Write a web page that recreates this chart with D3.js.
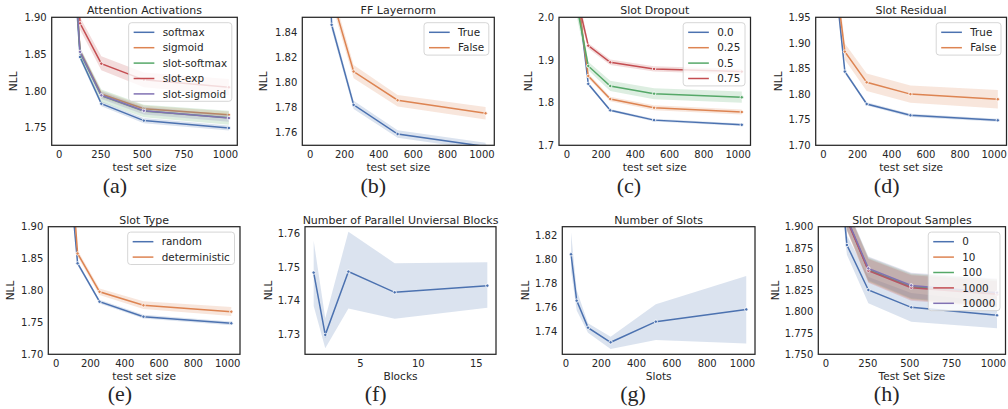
<!DOCTYPE html>
<html><head><meta charset="utf-8">
<script src="https://cdn.jsdelivr.net/npm/d3@7"></script>
<style>
body{margin:0;background:#fff}
svg{display:block}
text{font-family:'DejaVu Sans',sans-serif;fill:#262626}
</style>
</head><body><svg id="c" width="1008" height="409"></svg>
<script>
// ---------- data ----------
const testSizes = [8, 128, 256, 512, 1024];
const ticksTest250 = [0, 250, 500, 750, 1000];
const ticksTest200 = [0, 200, 400, 600, 800, 1000];

// (a) Attention Activations
const attnNames = ['softmax', 'sigmoid', 'slot-softmax', 'slot-exp', 'slot-sigmoid'];
const attnMean = [
  [2.25, 1.846, 1.7825, 1.7596, 1.7495],
  [2.28, 1.854, 1.7957, 1.7756, 1.7674],
  [2.27, 1.852, 1.7935, 1.7725, 1.7635],
  [2.35, 1.8918, 1.837, 1.815, 1.8049],
  [2.27, 1.853, 1.794, 1.773, 1.763]];
const attnLo = [
  [2.22, 1.842, 1.779, 1.756, 1.746],
  [2.25, 1.850, 1.791, 1.771, 1.762],
  [2.23, 1.845, 1.785, 1.764, 1.754],
  [2.30, 1.883, 1.828, 1.805, 1.794],
  [2.24, 1.848, 1.789, 1.768, 1.758]];
const attnHi = [
  [2.28, 1.850, 1.786, 1.763, 1.753],
  [2.31, 1.858, 1.800, 1.780, 1.772],
  [2.31, 1.859, 1.802, 1.781, 1.773],
  [2.40, 1.900, 1.847, 1.825, 1.816],
  [2.30, 1.858, 1.799, 1.778, 1.768]];
const attnYTicks = [1.75, 1.80, 1.85, 1.90];

// (b) FF Layernorm
const lnNames = ['True', 'False'];
const lnMean = [[2.25, 1.846, 1.7822, 1.759, 1.749], [2.30, 1.869, 1.8088, 1.7859, 1.7755]];
const lnLo = [[2.22, 1.842, 1.779, 1.756, 1.746], [2.26, 1.863, 1.8035, 1.781, 1.7705]];
const lnHi = [[2.28, 1.850, 1.7855, 1.762, 1.752], [2.34, 1.875, 1.814, 1.790, 1.7805]];
const lnYTicks = [1.76, 1.78, 1.80, 1.82, 1.84];

// (c) Slot Dropout
const dropNames = ['0.0', '0.25', '0.5', '0.75'];
const dropMean = [
  [2.25, 1.844, 1.782, 1.759, 1.748],
  [2.22, 1.8625, 1.8086, 1.788, 1.778],
  [2.14, 1.886, 1.839, 1.821, 1.8125],
  [2.14, 1.9336, 1.8945, 1.879, 1.8727]];
const dropLo = [
  [2.22, 1.840, 1.779, 1.756, 1.745],
  [2.19, 1.857, 1.803, 1.782, 1.772],
  [2.10, 1.876, 1.827, 1.808, 1.800],
  [2.10, 1.927, 1.888, 1.873, 1.866]];
const dropHi = [
  [2.28, 1.848, 1.785, 1.762, 1.751],
  [2.25, 1.868, 1.814, 1.794, 1.784],
  [2.18, 1.896, 1.851, 1.834, 1.826],
  [2.18, 1.940, 1.901, 1.885, 1.879]];
const dropYTicks = [1.7, 1.8, 1.9, 2.0];

// (d) Slot Residual
const resNames = ['True', 'False'];
const resMean = [[2.23, 1.844, 1.7807, 1.7586, 1.7488], [2.20, 1.883, 1.823, 1.800, 1.790]];
const resLo = [[2.20, 1.840, 1.7775, 1.7555, 1.7458], [2.16, 1.867, 1.806, 1.783, 1.772]];
const resHi = [[2.26, 1.848, 1.784, 1.7617, 1.7518], [2.24, 1.899, 1.840, 1.817, 1.808]];
const resYTicks = [1.70, 1.75, 1.80, 1.85, 1.90, 1.95];

// (e) Slot Type
const typeNames = ['random', 'deterministic'];
const typeMean = [[2.20, 1.8426, 1.7825, 1.759, 1.7486], [2.29, 1.858, 1.798, 1.7768, 1.7668]];
const typeLo = [[2.17, 1.839, 1.7795, 1.756, 1.7456], [2.25, 1.853, 1.793, 1.771, 1.760]];
const typeHi = [[2.23, 1.846, 1.7855, 1.762, 1.7516], [2.33, 1.863, 1.803, 1.783, 1.774]];
const typeYTicks = [1.70, 1.75, 1.80, 1.85, 1.90];

// (f) Number of Parallel Universal Blocks
const blocks = [1, 2, 4, 8, 16];
const blocksMean = [1.7483, 1.7297, 1.7486, 1.7424, 1.7444];
const blocksLo = [1.7383, 1.7257, 1.7376, 1.7345, 1.7378];
const blocksHi = [1.7578, 1.7347, 1.7605, 1.7511, 1.7514];
const blocksXTicks = [5, 10, 15];
const blocksYTicks = [1.73, 1.74, 1.75, 1.76];

// (g) Number of Slots
const slots = [32, 64, 128, 256, 512, 1024];
const slotsMean = [1.8039, 1.7653, 1.7428, 1.7306, 1.7478, 1.758];
const slotsLo = [1.790, 1.757, 1.7386, 1.725, 1.7325, 1.7297];
const slotsHi = [1.8222, 1.774, 1.7464, 1.7353, 1.7622, 1.7858];
const slotsYTicks = [1.74, 1.76, 1.78, 1.80, 1.82];

// (h) Slot Dropout Samples
const sampNames = ['0', '10', '100', '1000', '10000'];
const sampMean = [
  [2.14, 1.8785, 1.8256, 1.8052, 1.7958],
  [2.20, 1.909, 1.849, 1.829, 1.822],
  [2.20, 1.909, 1.8495, 1.8295, 1.822],
  [2.20, 1.908, 1.8483, 1.8283, 1.8205],
  [2.20, 1.910, 1.851, 1.831, 1.8225]];
const sampLo = [
  [2.10, 1.867, 1.810, 1.7884, 1.7805],
  [2.16, 1.896, 1.835, 1.814, 1.806],
  [2.16, 1.896, 1.836, 1.815, 1.806],
  [2.16, 1.895, 1.834, 1.813, 1.805],
  [2.16, 1.897, 1.837, 1.816, 1.807]];
const sampHi = [
  [2.18, 1.890, 1.841, 1.822, 1.811],
  [2.24, 1.922, 1.863, 1.844, 1.838],
  [2.24, 1.922, 1.864, 1.845, 1.838],
  [2.24, 1.921, 1.862, 1.843, 1.836],
  [2.24, 1.923, 1.865, 1.846, 1.839]];
const sampYTicks = [1.750, 1.775, 1.800, 1.825, 1.850, 1.875, 1.900];

const palette = ['#4C72B0', '#DD8452', '#55A868', '#C44E52', '#8172B3'];

// ---------- drawing ----------
const svg = d3.select('#c');
let clipId = 0;

function mk(names, mean, lo, hi) {
  return names.map((n, i) => ({name: n, mean: mean[i], lo: lo[i], hi: hi[i], color: palette[i]}));
}

function drawPanel(p) {
  const [l, t, r, b] = p.box;
  const g = svg.append('g');
  const ext = d3.extent(p.xs);
  const pad = (ext[1] - ext[0]) * 0.05;
  const x = d3.scaleLinear().domain([ext[0] - pad, ext[1] + pad]).range([l, r]);
  const y = d3.scaleLinear().domain(p.ydom).range([b, t]);
  const id = 'clip' + (clipId++);
  svg.append('clipPath').attr('id', id).append('rect')
    .attr('x', l).attr('y', t).attr('width', r - l).attr('height', b - t);
  const plot = g.append('g').attr('clip-path', `url(#${id})`);

  p.series.forEach(s => {
    const pts = p.xs.map((xv, i) => ({x: xv, m: s.mean[i], lo: s.lo[i], hi: s.hi[i]}));
    plot.append('path').datum(pts)
      .attr('d', d3.area().x(d => x(d.x)).y0(d => y(d.lo)).y1(d => y(d.hi)))
      .attr('fill', s.color).attr('fill-opacity', 0.2).attr('stroke', 'none');
    plot.append('path').datum(pts)
      .attr('d', d3.line().x(d => x(d.x)).y(d => y(d.m)))
      .attr('fill', 'none').attr('stroke', s.color).attr('stroke-width', 1.5);
    plot.selectAll(null).data(pts).enter().append('circle')
      .attr('cx', d => x(d.x)).attr('cy', d => y(d.m)).attr('r', 1.7)
      .attr('fill', s.color).attr('stroke', '#fff').attr('stroke-width', 0.8);
  });

  g.append('rect').attr('x', l).attr('y', t).attr('width', r - l).attr('height', b - t)
    .attr('fill', 'none').attr('stroke', '#262626').attr('stroke-width', 1.25);

  const ya = g.append('g').attr('transform', `translate(${l},0)`)
    .call(d3.axisLeft(y).tickValues(p.yticks).tickFormat(d3.format(p.yfmt)).tickSize(0).tickPadding(5));
  const xa = g.append('g').attr('transform', `translate(0,${b})`)
    .call(d3.axisBottom(x).tickValues(p.xticks).tickFormat(d3.format('d')).tickSize(0).tickPadding(6));
  [ya, xa].forEach(a => {
    a.select('.domain').remove();
    a.attr('font-family', null).attr('font-size', null);
    a.selectAll('text').style('font-size', '10px').style('font-family', "'DejaVu Sans',sans-serif").attr('fill', '#262626');
  });

  g.append('text').attr('x', (l + r) / 2).attr('y', t - 3).attr('text-anchor', 'middle')
    .style('font-size', '11px').text(p.title);
  g.append('text').attr('x', (l + r) / 2).attr('y', b + 26).attr('text-anchor', 'middle')
    .style('font-size', '10.6px').text(p.xlabel);
  g.append('text').attr('transform', `translate(${p.nllX + 3.8},${(t + b) / 2}) rotate(-90)`)
    .attr('text-anchor', 'middle').style('font-size', '10.6px').text('NLL');
  g.append('text').attr('x', p.capX).attr('y', p.capY).attr('text-anchor', 'middle')
    .style('font-family', "'Liberation Serif','Times New Roman',serif").style('font-size', '22px').text(p.cap);

  if (p.legend) {
    const lg = g.append('g');
    const box = lg.append('rect');
    const texts = p.series.map((s, i) => lg.append('text')
      .attr('y', t + 5.4 + 9.6 + i * 15.4).attr('dy', '0.35em')
      .style('font-size', '10.4px').text(s.name));
    const tw = d3.max(texts, tx => tx.node().getComputedTextLength());
    const w = 5 + 20.7 + 8.3 + tw + 4.7;
    const bx = r - 5.5 - w;
    const h = 9.6 + (p.series.length - 1) * 15.4 + 7.4;
    box.attr('x', bx).attr('y', t + 5.4).attr('width', w).attr('height', h).attr('rx', 3)
      .attr('fill', '#fff').attr('fill-opacity', 0.8).attr('stroke', '#cccccc').attr('stroke-width', 0.8);
    p.series.forEach((s, i) => {
      const cy = t + 5.4 + 9.6 + i * 15.4;
      lg.append('line').attr('x1', bx + 5).attr('x2', bx + 25.7).attr('y1', cy).attr('y2', cy)
        .attr('stroke', s.color).attr('stroke-width', 1.5);
      texts[i].attr('x', bx + 34);
    });
  }
}

const R1 = [17.3, 145.3], R2 = [226.7, 354.3];
const panels = [
  {box: [51.7, R1[0], 237.3, R1[1]], xs: testSizes, series: mk(attnNames, attnMean, attnLo, attnHi),
   ydom: [1.726, 1.90], yticks: attnYTicks, yfmt: '.2f', xticks: ticksTest250,
   title: 'Attention Activations', xlabel: 'test set size', cap: '(a)', capX: 115, capY: 193, nllX: 13.3, legend: true},
  {box: [302.3, R1[0], 494.3, R1[1]], xs: testSizes, series: mk(lnNames, lnMean, lnLo, lnHi),
   ydom: [1.75, 1.852], yticks: lnYTicks, yfmt: '.2f', xticks: ticksTest200,
   title: 'FF Layernorm', xlabel: 'test set size', cap: '(b)', capX: 373.3, capY: 193, nllX: 263.5, legend: true},
  {box: [559, R1[0], 750.5, R1[1]], xs: testSizes, series: mk(dropNames, dropMean, dropLo, dropHi),
   ydom: [1.7, 2.0], yticks: dropYTicks, yfmt: '.1f', xticks: ticksTest200,
   title: 'Slot Dropout', xlabel: 'test set size', cap: '(c)', capX: 629, capY: 193, nllX: 528.3, legend: true},
  {box: [815.7, R1[0], 1006.5, R1[1]], xs: testSizes, series: mk(resNames, resMean, resLo, resHi),
   ydom: [1.70, 1.95], yticks: resYTicks, yfmt: '.2f', xticks: ticksTest200,
   title: 'Slot Residual', xlabel: 'test set size', cap: '(d)', capX: 886.7, capY: 193, nllX: 778.3, legend: true},
  {box: [48.3, R2[0], 240, R2[1]], xs: testSizes, series: mk(typeNames, typeMean, typeLo, typeHi),
   ydom: [1.70, 1.90], yticks: typeYTicks, yfmt: '.2f', xticks: ticksTest200,
   title: 'Slot Type', xlabel: 'test set size', cap: '(e)', capX: 120, capY: 400.5, nllX: 10, legend: true},
  {box: [305, R2[0], 496, R2[1]], xs: blocks, series: [{name: '', mean: blocksMean, lo: blocksLo, hi: blocksHi, color: palette[0]}],
   ydom: [1.7239, 1.762], yticks: blocksYTicks, yfmt: '.2f', xticks: blocksXTicks,
   title: 'Number of Parallel Unviersal Blocks', xlabel: 'Blocks', cap: '(f)', capX: 375.7, capY: 400.5, nllX: 268.3, legend: false},
  {box: [562.3, R2[0], 755, R2[1]], xs: slots, series: [{name: '', mean: slotsMean, lo: slotsLo, hi: slotsHi, color: palette[0]}],
   ydom: [1.7206, 1.8269], yticks: slotsYTicks, yfmt: '.2f', xticks: ticksTest200,
   title: 'Number of Slots', xlabel: 'Slots', cap: '(g)', capX: 633, capY: 400.5, nllX: 525, legend: false},
  {box: [818.3, R2[0], 1005.5, R2[1]], xs: testSizes, series: mk(sampNames, sampMean, sampLo, sampHi),
   ydom: [1.75, 1.90], yticks: sampYTicks, yfmt: '.3f', xticks: ticksTest250,
   title: 'Slot Dropout Samples', xlabel: 'Test Set Size', cap: '(h)', capX: 886.7, capY: 400.5, nllX: 775, legend: true}
];
panels.forEach(drawPanel);
</script>
</body></html>
